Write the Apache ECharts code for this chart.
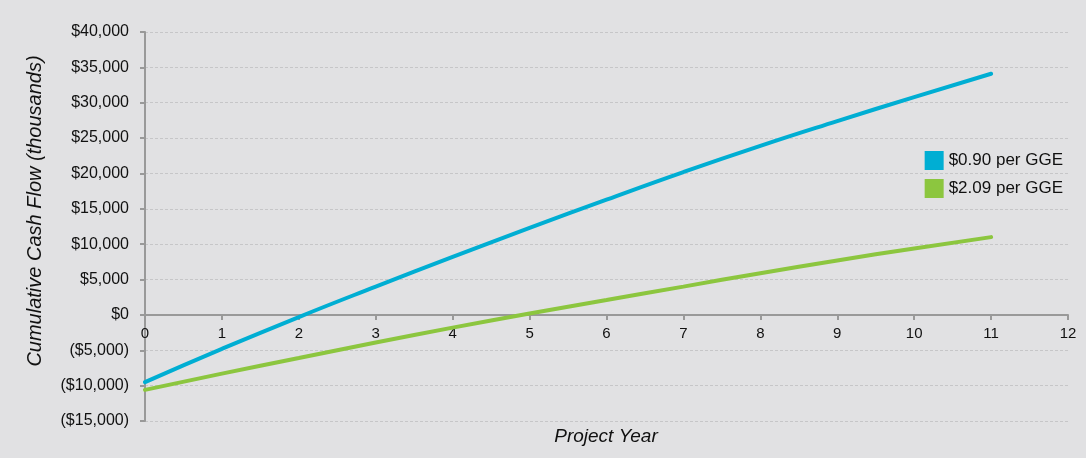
<!DOCTYPE html>
<html>
<head>
<meta charset="utf-8">
<script src="https://cdn.jsdelivr.net/npm/echarts@6/dist/echarts.min.js"></script>
<style>
  html, body { margin: 0; padding: 0; background: #e1e1e3; }
  #chart { width: 1086px; height: 458px; }
</style>
</head>
<body>
<div id="chart"></div>
<script>
// project years and cumulative cash flow (thousands of $)
const years = [0, 1, 2, 3, 4, 5, 6, 7, 8, 9, 10, 11]
const low = [-9500, -4800, -300, 4000, 8200, 12300, 16300, 20200, 23900, 27400, 30800, 34100]
const high = [-10600, -8300, -6100, -3900, -1800, 200, 2100, 4000, 5900, 7700, 9400, 11000]
const seriesNames = ['$0.90 per GGE', '$2.09 per GGE']
const colors = ['#00aed3', '#8cc63f']

const money = v => {
  const s = '$' + Math.abs(v).toLocaleString('en-US')
  return v < 0 ? '(' + s + ')' : s
}

const chart = echarts.init(document.getElementById('chart'))
const font = 'Helvetica, "Liberation Sans", Arial, sans-serif'

chart.setOption({
  backgroundColor: '#e1e1e3',
  animation: false,
  textStyle: { fontFamily: font },
  grid: { left: 145, right: 18, top: 32, bottom: 37, containLabel: false, outerBoundsMode: 'none' },
  legend: {
    right: 18,
    top: 146,
    orient: 'vertical',
    itemWidth: 19,
    itemHeight: 19,
    itemGap: 9,
    icon: 'rect',
    textStyle: { fontSize: 17, color: '#111', fontFamily: font },
    data: seriesNames
  },
  graphic: [
    {
      type: 'text',
      x: 606,
      y: 437,
      style: { text: 'Project Year', font: 'italic 19px ' + font, fill: '#111', align: 'center', verticalAlign: 'middle' }
    },
    {
      type: 'text',
      x: 35,
      y: 211,
      rotation: Math.PI / 2,
      style: { text: 'Cumulative Cash Flow (thousands)', font: 'italic 20px ' + font, fill: '#111', align: 'center', verticalAlign: 'middle' }
    }
  ],
  xAxis: {
    type: 'value',
    min: 0,
    max: 12,
    interval: 1,
    offset: -106,
    axisLine: { onZero: false, lineStyle: { color: '#999', width: 2 } },
    axisTick: { show: true, length: 5, lineStyle: { color: '#999', width: 2 } },
    axisLabel: { fontSize: 15, color: '#111', margin: 11 },
    splitLine: { show: false }
  },
  yAxis: {
    type: 'value',
    min: -15000,
    max: 40000,
    interval: 5000,
    axisLine: { show: true, lineStyle: { color: '#999', width: 2 } },
    axisTick: { show: true, length: 5, lineStyle: { color: '#999', width: 2 } },
    axisLabel: { fontSize: 16, color: '#111', margin: 16, formatter: money },
    splitLine: { lineStyle: { color: '#c6c6c8', type: [3, 2], width: 1 } }
  },
  series: [
    {
      name: seriesNames[0],
      type: 'line',
      smooth: true,
      showSymbol: false,
      data: years.map((y, i) => [y, low[i]]),
      itemStyle: { color: colors[0] },
      lineStyle: { width: 4, color: colors[0], cap: 'round' }
    },
    {
      name: seriesNames[1],
      type: 'line',
      smooth: true,
      showSymbol: false,
      data: years.map((y, i) => [y, high[i]]),
      itemStyle: { color: colors[1] },
      lineStyle: { width: 4, color: colors[1], cap: 'round' }
    }
  ]
})
</script>
</body>
</html>
